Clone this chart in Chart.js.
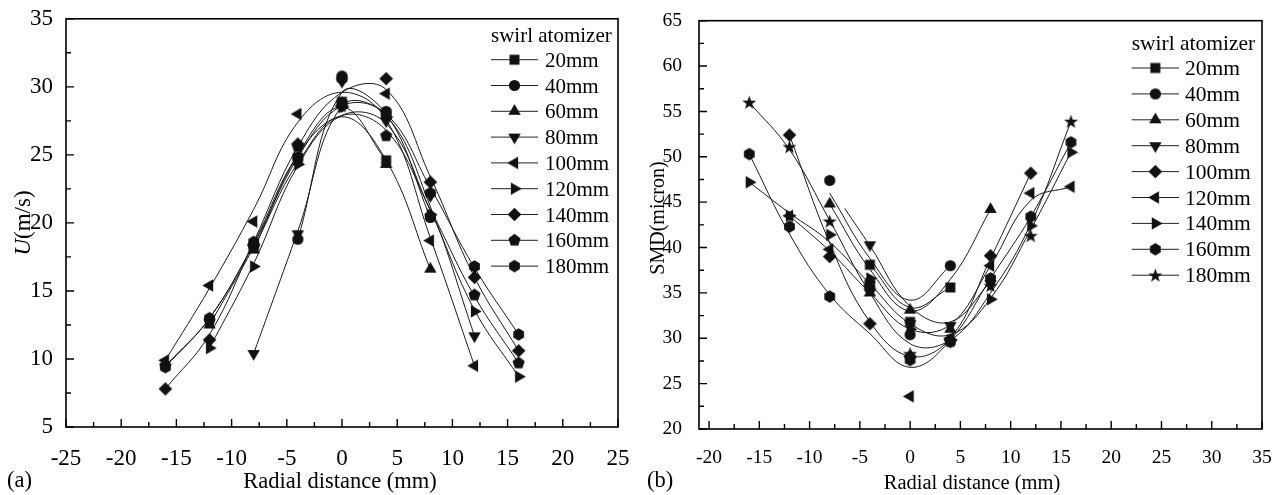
<!DOCTYPE html>
<html><head><meta charset="utf-8">
<script src="https://cdn.jsdelivr.net/npm/chart.js@4/dist/chart.umd.min.js"></script>
<style>
html,body{margin:0;padding:0;background:#fff;width:1282px;height:495px;overflow:hidden}
#ca{position:absolute;left:0;top:0}
#cb{position:absolute;left:640px;top:0}
</style></head><body>
<canvas id="ca" width="640" height="495" style="width:640px;height:495px"></canvas>
<canvas id="cb" width="642" height="495" style="width:642px;height:495px"></canvas>
<script>
// ---------- shared ----------
const seriesNames = ['20mm','40mm','60mm','80mm','100mm','120mm','140mm','160mm','180mm'];
const legendTitle = 'swirl atomizer';

// ---------- panel (a): U (m/s) vs radial distance ----------
const aXTicks = [-25,-20,-15,-10,-5,0,5,10,15,20,25];
const aYTicks = [5,10,15,20,25,30,35];
const aX20  = [-8,-4,0,4];            const aU20  = [18.2,24.8,28.9,24.6];            const aFit20  = [18.0,25.0,28.5,24.6];
const aX40  = [-4,0,4,8];             const aU40  = [18.8,30.8,28.2,20.4];            const aFit40  = [18.8,29.6,28.0,20.4];
const aX60  = [-12,-8,-4,0,4,8];      const aU60  = [12.5,18.0,24.5,28.7,24.3,16.6];  const aFit60  = [12.5,18.2,24.4,27.8,24.6,16.6];
const aX80  = [-8,-4,0,4,8,12];       const aU80  = [10.4,19.2,30.4,27.5,22.0,11.7];  const aFit80  = [10.4,19.4,28.6,27.9,21.2,11.7];
const aX100 = [-16,-12,-8,-4,0,4,8,12];      const aU100 = [9.9,15.4,20.1,28.0,28.6,29.5,18.7,9.5];   const aFit100 = [9.9,15.2,21.0,27.4,29.6,27.6,18.9,9.5];
const aX120 = [-12,-8,-4,0,4,8,12,16];       const aU120 = [10.8,16.8,24.3,28.5,27.8,20.6,13.5,8.7];  const aFit120 = [10.8,17.0,24.2,27.9,27.3,20.9,13.6,8.7];
const aX140 = [-16,-12,-8,-4,0,4,8,12,16];   const aU140 = [7.8,11.4,18.4,25.8,28.6,30.6,23.0,16.0,10.6]; const aFit140 = [7.8,11.8,18.6,25.6,29.6,29.8,23.4,16.0,10.6];
const aX160 = [-16,-12,-8,-4,0,4,8,12,16];   const aU160 = [9.5,12.8,18.2,25.6,28.8,26.4,20.5,14.7,9.7];  const aFit160 = [9.5,13.0,18.5,25.0,27.9,26.8,21.0,14.6,9.7];
const aX180 = [-16,-12,-8,-4,0,4,8,12,16];   const aU180 = [9.4,13.0,18.6,24.8,30.6,27.9,22.2,16.8,11.8]; const aFit180 = [9.4,13.0,18.4,24.8,28.6,28.0,22.6,16.7,11.8];

// ---------- panel (b): SMD (micron) vs radial distance ----------
const bXTicks = [-20,-15,-10,-5,0,5,10,15,20,25,30,35];
const bYTicks = [20,25,30,35,40,45,50,55,60,65];
const bX20  = [-4,0,4];               const bS20  = [38.1,31.8,35.6];                 const bCX20 = [-4,0,4];          const bFit20  = [38.1,33.4,35.6];
const bX40  = [-8,-4,0,4];            const bS40  = [47.4,36.2,30.4,38.0];            const bCX40 = [-8,-4,0,4];       const bFit40  = [46.0,38.8,34.2,38.0];
const bX60  = [-8,-4,0,4,8];          const bS60  = [44.8,35.0,33.1,31.0,44.2];       const bCX60 = [-8,-4,0,4,8];     const bFit60  = [44.8,37.6,33.0,36.5,44.2];
const bX80  = [-4,0,4,8];             const bS80  = [40.3,31.6,31.4,36.0];            const bCX80 = [-6.5,-4,0,4,8];   const bFit80  = [44.3,40.2,33.5,31.8,36.2];
const bX100 = [-12,-8,-4,0,4,8,12];          const bS100 = [52.4,39.0,31.6,28.0,29.8,39.1,48.2];           const bCX100 = bX100; const bFit100 = [52.4,40.5,31.8,28.0,30.0,38.8,48.2];
const bX120 = [-12,-8,-4,0,4,8,12,16];       const bS120 = [43.5,39.8,35.8,23.6,30.0,38.0,46.0,46.7];      const bCX120 = bX120; const bFit120 = [43.5,39.6,35.0,31.0,31.5,38.0,45.2,46.7];
const bX140 = [-16,-12,-8,-4,0,4,8,12,16];   const bS140 = [47.2,43.5,41.4,36.6,31.0,29.8,34.3,42.4,50.5]; const bCX140 = bX140; const bFit140 = [47.2,43.8,40.6,36.0,31.6,30.4,34.4,42.0,50.5];
const bX160 = [-16,-12,-8,-4,0,4,8,12,16];   const bS160 = [50.3,42.3,34.6,35.5,27.6,29.6,36.6,43.4,51.6]; const bCX160 = bX160; const bFit160 = [50.3,41.5,34.8,30.5,26.8,29.8,36.6,43.4,51.6];
const bX180 = [-16,-12,-8,-4,0,4,8,12,16];   const bS180 = [56.0,51.1,42.9,35.3,28.3,29.7,35.8,41.3,53.9]; const bCX180 = bX180; const bFit180 = [56.0,50.8,43.0,35.0,29.4,29.8,35.0,42.6,53.9];

// ---------- marker images ----------
const FONT = "'Liberation Serif', 'Times New Roman', serif";
function marker(shape) {
  const s = 17, c = document.createElement('canvas');
  c.width = s; c.height = s;
  const g = c.getContext('2d'), m = s / 2;
  g.fillStyle = '#111';
  g.beginPath();
  const poly = (n, r, a0) => {
    for (let i = 0; i < n; i++) {
      const a = (a0 + i * 360 / n) * Math.PI / 180;
      const px = m + r * Math.cos(a), py = m + r * Math.sin(a);
      i ? g.lineTo(px, py) : g.moveTo(px, py);
    }
    g.closePath();
  };
  switch (shape) {
    case 'square': g.rect(m - 5, m - 5, 10, 10); break;
    case 'circle': g.arc(m, m, 5.6, 0, Math.PI * 2); break;
    case 'up': poly(3, 7.2, -90); break;
    case 'down': poly(3, 7.2, 90); break;
    case 'left': poly(3, 7.2, 180); break;
    case 'right': poly(3, 7.2, 0); break;
    case 'diamond': poly(4, 6.8, -90); break;
    case 'pentagon': poly(5, 6.4, -90); break;
    case 'hexagon': poly(6, 6.2, -90); break;
    case 'star':
      for (let i = 0; i < 10; i++) {
        const r = i % 2 ? 3.0 : 7.4;
        const a = (-90 + i * 36) * Math.PI / 180;
        const px = m + r * Math.cos(a), py = m + 0.6 + r * Math.sin(a);
        i ? g.lineTo(px, py) : g.moveTo(px, py);
      }
      g.closePath(); break;
  }
  g.fill();
  return c;
}
const aShapes = ['square','circle','up','down','left','right','diamond','pentagon','hexagon'].map(marker);
const bShapes = ['square','circle','up','down','diamond','left','right','hexagon','star'].map(marker);

const pts = (xs, ys) => xs.map((x, i) => ({x: x, y: ys[i]}));

function buildDatasets(markerX, markerY, curveX, curveY, shapes) {
  const ds = [];
  for (let i = 0; i < markerX.length; i++) {
    ds.push({label: seriesNames[i] + ' fit', data: pts(curveX[i], curveY[i]), showLine: true,
      borderColor: '#1a1a1a', borderWidth: 1, pointRadius: 0, tension: 0.4, fill: false, order: 2});
  }
  for (let i = 0; i < markerX.length; i++) {
    ds.push({label: seriesNames[i], data: pts(markerX[i], markerY[i]), showLine: false,
      pointStyle: shapes[i], pointRadius: 6, borderWidth: 0, backgroundColor: '#111', order: 1});
  }
  return ds;
}

function decorPlugin(o) {
  return {
    id: 'decor',
    afterDraw(chart) {
      const ctx = chart.ctx, a = chart.chartArea, xs = chart.scales.x, ys = chart.scales.y;
      ctx.save();
      ctx.strokeStyle = '#000';
      ctx.lineWidth = 1.6;
      ctx.strokeRect(a.left, a.top, a.right - a.left, a.bottom - a.top);
      ctx.lineWidth = 1.4;
      ctx.beginPath();
      const xt = o.xTicks, yt = o.yTicks;
      xt.forEach((v, i) => {
        const p = xs.getPixelForValue(v);
        ctx.moveTo(p, a.bottom); ctx.lineTo(p, a.bottom - 8);
        const h = v - (xt[1] - xt[0]) / 2, hp = xs.getPixelForValue(h);
        if (hp > a.left + 1) { ctx.moveTo(hp, a.bottom); ctx.lineTo(hp, a.bottom - 5); }
      });
      yt.forEach((v, i) => {
        const p = ys.getPixelForValue(v);
        ctx.moveTo(a.left, p); ctx.lineTo(a.left + 8, p);
        if (i > 0) {
          const hp = ys.getPixelForValue(v - (yt[1] - yt[0]) / 2);
          ctx.moveTo(a.left, hp); ctx.lineTo(a.left + 5, hp);
        }
      });
      ctx.stroke();

      // x title & panel label
      ctx.fillStyle = '#000';
      ctx.textBaseline = 'alphabetic';
      ctx.font = o.titleSize + 'px ' + FONT;
      ctx.textAlign = 'center';
      ctx.fillText('Radial distance (mm)', o.xTitleX, o.xTitleY);
      ctx.font = o.panelSize + 'px ' + FONT;
      ctx.textAlign = 'left';
      ctx.fillText(o.panel, o.panelX, o.panelY);

      // y title (rotated)
      ctx.save();
      ctx.translate(o.yTitleX, o.yTitleY);
      ctx.rotate(-Math.PI / 2);
      ctx.textAlign = 'left';
      let total = 0;
      o.yTitleParts.forEach(p => { ctx.font = (p.it ? 'italic ' : '') + o.yTitleSize + 'px ' + FONT; total += ctx.measureText(p.t).width; });
      let cx = -total / 2;
      o.yTitleParts.forEach(p => { ctx.font = (p.it ? 'italic ' : '') + o.yTitleSize + 'px ' + FONT; ctx.fillText(p.t, cx, 0); cx += ctx.measureText(p.t).width; });
      ctx.restore();

      // legend
      ctx.font = o.legSize + 'px ' + FONT;
      ctx.textAlign = 'left';
      ctx.fillText(legendTitle, o.legX0, o.legTitleY);
      seriesNames.forEach((n, i) => {
        const base = o.legY0 + i * o.legDy;
        const ly = base - 7;
        ctx.beginPath();
        ctx.lineWidth = 1;
        ctx.strokeStyle = '#222';
        ctx.moveTo(o.legX0, ly); ctx.lineTo(o.legX1, ly);
        ctx.stroke();
        const img = o.shapes[i];
        ctx.drawImage(img, (o.legX0 + o.legX1) / 2 - img.width / 2, ly - img.height / 2);
        ctx.fillText(n, o.legTextX, base);
      });
      ctx.restore();
    }
  };
}

function axisCfg(min, max, tickArr, size, pad, fitKey, fitVal) {
  return {
    type: 'linear', min: min, max: max,
    grid: {display: false}, border: {display: false},
    ticks: {font: {family: FONT, size: size}, color: '#000', padding: pad, autoSkip: false, maxRotation: 0,
            callback: v => String(v)},
    afterBuildTicks: s => { s.ticks = tickArr.map(v => ({value: v})); },
    afterFit: s => { s[fitKey] = fitVal; }
  };
}

// ---------- chart (a) ----------
new Chart(document.getElementById('ca'), {
  type: 'scatter',
  data: {datasets: buildDatasets(
    [aX20,aX40,aX60,aX80,aX100,aX120,aX140,aX160,aX180],
    [aU20,aU40,aU60,aU80,aU100,aU120,aU140,aU160,aU180],
    [aX20,aX40,aX60,aX80,aX100,aX120,aX140,aX160,aX180],
    [aFit20,aFit40,aFit60,aFit80,aFit100,aFit120,aFit140,aFit160,aFit180], aShapes)},
  options: {
    responsive: false, animation: false,
    layout: {padding: {left: 0, top: 16, right: 22, bottom: 0}, autoPadding: false},
    plugins: {legend: {display: false}, tooltip: {enabled: false}},
    scales: {
      x: axisCfg(-25, 25, aXTicks, 23, 10, 'height', 68),
      y: axisCfg(5, 35, aYTicks, 23, 5, 'width', 66)
    }
  },
  plugins: [decorPlugin({
    xTicks: aXTicks, yTicks: aYTicks,
    titleSize: 22.5, xTitleX: 340, xTitleY: 488,
    panel: '(a)', panelSize: 22.5, panelX: 7, panelY: 487,
    yTitleParts: [{t: 'U', it: true}, {t: '(m/s)', it: false}], yTitleSize: 23, yTitleX: 30, yTitleY: 223,
    legSize: 21, legX0: 491, legX1: 538, legTextX: 545, legTitleY: 41.7, legY0: 66.7, legDy: 25.8,
    shapes: aShapes
  })]
});

// ---------- chart (b) ----------
new Chart(document.getElementById('cb'), {
  type: 'scatter',
  data: {datasets: buildDatasets(
    [bX20,bX40,bX60,bX80,bX100,bX120,bX140,bX160,bX180],
    [bS20,bS40,bS60,bS80,bS100,bS120,bS140,bS160,bS180],
    [bCX20,bCX40,bCX60,bCX80,bCX100,bCX120,bCX140,bCX160,bCX180],
    [bFit20,bFit40,bFit60,bFit80,bFit100,bFit120,bFit140,bFit160,bFit180], bShapes)},
  options: {
    responsive: false, animation: false,
    layout: {padding: {left: 0, top: 20, right: 20, bottom: 0}, autoPadding: false},
    plugins: {legend: {display: false}, tooltip: {enabled: false}},
    scales: {
      x: axisCfg(-21, 35, bXTicks, 19.5, 9, 'height', 66),
      y: axisCfg(20, 65, bYTicks, 19.5, 9, 'width', 59)
    }
  },
  plugins: [decorPlugin({
    xTicks: bXTicks, yTicks: bYTicks,
    titleSize: 20.5, xTitleX: 332, xTitleY: 489,
    panel: '(b)', panelSize: 22.5, panelX: 7, panelY: 487,
    yTitleParts: [{t: 'SMD(micron)', it: false}], yTitleSize: 20, yTitleX: 24, yTitleY: 218,
    legSize: 21.5, legX0: 491.7, legX1: 539, legTextX: 545, legTitleY: 50, legY0: 75, legDy: 25.9,
    shapes: bShapes
  })]
});
</script>
</body></html>
